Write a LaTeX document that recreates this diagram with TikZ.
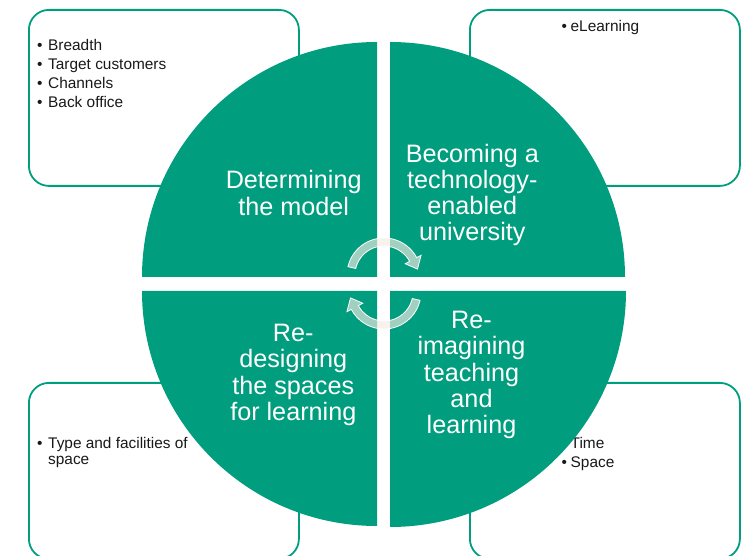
\documentclass[tikz,border=0pt]{standalone}
\usepackage{fontspec}
\setmainfont{Liberation Sans}
\usetikzlibrary{calc}
\definecolor{tealq}{RGB}{0,158,126}
\definecolor{arrowc}{RGB}{245,235,228}
\begin{document}
\begin{tikzpicture}[x=1pt,y=1pt,
  quad/.style={fill=tealq},
  infobox/.style={draw=tealq, line width=1.8pt, rounded corners=20pt, fill=white, minimum width=270pt, minimum height=176pt, inner sep=0pt, anchor=north west},
  boxtext/.style={anchor=base west, inner sep=0pt, font=\fontsize{15.4}{18.7}\selectfont, text=black!90},
  qlabel/.style={text=white, align=center, font=\fontsize{25.2}{26.3}\selectfont, inner sep=0pt},
  cyc/.style={fill=arrowc, fill opacity=0.66, draw=white, line width=0.8pt}]
\useasboundingbox (0,0) rectangle (748,555);
\begin{scope}
\clip (0,0) rectangle (748,555);
% side boxes
\node[infobox] (boxtl) at (28,546) {};
\node[infobox] (boxtr) at (469,546) {};
\node[infobox] (boxbl) at (28,173) {};
\node[infobox] (boxbr) at (469,173) {};
% box texts
\node[boxtext] (txttl) at (37,504) {\begin{tabular}[t]{@{}l@{\hspace{5.6pt}}l@{}}\textbullet & Breadth\\ \textbullet & Target customers\\ \textbullet & Channels\\ \textbullet & Back office\end{tabular}};
\node[boxtext] (txttr) at (561.5,523.3) {\begin{tabular}[t]{@{}l@{\hspace{3.6pt}}l@{}}\textbullet & eLearning\end{tabular}};
\node[boxtext] (txtbl) at (37,106.7) {\begin{tabular}[t]{@{}l@{\hspace{5.6pt}}l@{}}\textbullet & Type and facilities of\\[-2.7pt] & space\end{tabular}};
\node[boxtext] (txtbr) at (561.5,106.7) {\begin{tabular}[t]{@{}l@{\hspace{3.6pt}}l@{}}\textbullet & Time\\[0.7pt] \textbullet & Space\end{tabular}};
% quadrants
\fill[quad] (377,278) -- (142,278) arc[start angle=180, end angle=90, radius=235] -- cycle;
\fill[quad] (390,278) -- (625,278) arc[start angle=0, end angle=90, radius=235] -- cycle;
\fill[quad] (377,264) -- (142,264) arc[start angle=180, end angle=270, radius=235] -- cycle;
\fill[quad] (390,264) -- (626,264) arc[start angle=0, end angle=-90, radius=236] -- cycle;
% labels
\node[qlabel] (lbltl) at (293.7,362.1) {Determining\\the model};
\node[qlabel] (lbltr) at (472.3,360) {Becoming a\\technology-\\enabled\\university};
\node[qlabel] (lblbl) at (293.3,180) {Re-\\designing\\the spaces\\for learning};
\node[qlabel] (lblbr) at (471.5,179.8) {Re-\\imagining\\teaching\\and\\learning};
% circular arrows
\coordinate (ca) at (384,280);
\coordinate (cb) at (384,263);
\filldraw[cyc] ($(ca)+(167:37)$) arc[start angle=167, end angle=28, radius=37]
  -- ($(ca)+(28:42)$) -- ($(ca)+(10:34)$) -- ($(ca)+(28:24)$) -- ($(ca)+(28:29)$)
  arc[start angle=28, end angle=167, radius=29] -- cycle;
\filldraw[cyc] ($(cb)+(-13:37)$) arc[start angle=-13, end angle=-152, radius=37]
  -- ($(cb)+(-152:42)$) -- ($(cb)+(-170:34)$) -- ($(cb)+(-152:24)$) -- ($(cb)+(-152:29)$)
  arc[start angle=-152, end angle=-13, radius=29] -- cycle;
\end{scope}
\end{tikzpicture}
\end{document}
